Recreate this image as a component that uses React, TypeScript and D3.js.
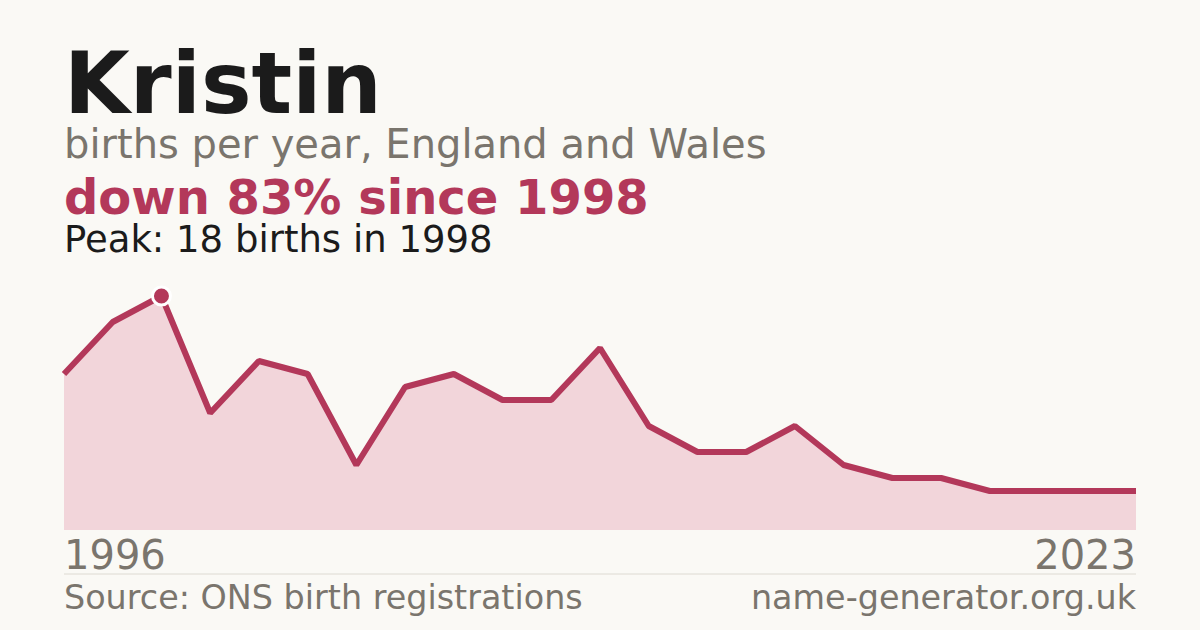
import { area, line, max, scaleLinear, select } from "d3";
import React, { useEffect, useRef } from "react";

// births per year (years with no published count are skipped)
const years = [
    1996, 1997, 1998, 1999, 2000, 2001, 2002, 2003, 2004, 2005, 2006, 2007,
    2008, 2009, 2010, 2011, 2012, 2014, 2016, 2018, 2020, 2022, 2023,
];
const births = [
    12, 16, 18, 9, 13, 12, 5, 11, 12, 10, 10, 14, 8, 6, 6, 8, 5, 4, 4, 3, 3, 3,
    3,
];
const axisLabels = ["1996", "2023"];

const FONT = "'DejaVu Sans', Verdana, sans-serif";
const RED = "#b3385a";
const GREY = "#7a756d";

const NameChart: React.FC = () => {
    const svgRef = useRef<SVGSVGElement>(null);

    useEffect(() => {
        if (svgRef.current) {
            svgRef.current.innerHTML = "";
        }
        document.body.style.margin = "0";

        const width = 1200,
            height = 630;
        const left = 64,
            right = 1136;

        const svg = select(svgRef.current)
            .attr("width", width)
            .attr("height", height)
            .style("display", "block")
            .style("font-family", FONT);

        svg.append("rect")
            .attr("width", width)
            .attr("height", height)
            .attr("fill", "#faf9f5");

        // header texts
        svg.append("text")
            .attr("x", left)
            .attr("y", 113)
            .attr("font-size", 85)
            .attr("font-weight", "bold")
            .attr("fill", "#1b1b1b")
            .text("Kristin");

        svg.append("text")
            .attr("x", left)
            .attr("y", 158)
            .attr("font-size", 40)
            .attr("fill", GREY)
            .text("births per year, England and Wales");

        svg.append("text")
            .attr("x", left)
            .attr("y", 214)
            .attr("font-size", 48)
            .attr("font-weight", "bold")
            .attr("fill", RED)
            .text("down 83% since 1998");

        svg.append("text")
            .attr("x", left)
            .attr("y", 252)
            .attr("font-size", 37)
            .attr("fill", "#1b1b1b")
            .text("Peak: 18 births in 1998");

        const xScale = scaleLinear()
            .domain([0, years.length - 1])
            .range([left, right]);

        const yScale = scaleLinear()
            .domain([0, max(births) as number])
            .range([530, 296]);

        const myArea = area<number>()
            .x((d, i) => xScale(i))
            .y0(yScale(0))
            .y1(d => yScale(d));

        const myLine = line<number>()
            .x((d, i) => xScale(i))
            .y(d => yScale(d));

        svg.append("path")
            .datum(births)
            .attr("fill", "#f2d5da")
            .attr("d", myArea);

        svg.append("path")
            .datum(births)
            .attr("fill", "none")
            .attr("stroke", RED)
            .attr("stroke-width", 6)
            .attr("stroke-linejoin", "bevel")
            .attr("d", myLine);

        // peak marker
        const peak = births.indexOf(max(births) as number);
        svg.append("circle")
            .attr("cx", xScale(peak))
            .attr("cy", yScale(births[peak]))
            .attr("r", 9)
            .attr("fill", RED)
            .attr("stroke", "#ffffff")
            .attr("stroke-width", 3);

        // year labels
        svg.append("text")
            .attr("x", left)
            .attr("y", 569)
            .attr("font-size", 40)
            .attr("fill", GREY)
            .text(axisLabels[0]);

        svg.append("text")
            .attr("x", right)
            .attr("y", 569)
            .attr("font-size", 40)
            .attr("text-anchor", "end")
            .attr("fill", GREY)
            .text(axisLabels[1]);

        svg.append("line")
            .attr("x1", left)
            .attr("x2", right)
            .attr("y1", 574)
            .attr("y2", 574)
            .attr("stroke", "#dddad2")
            .attr("stroke-width", 1);

        // footer
        svg.append("text")
            .attr("x", left)
            .attr("y", 609)
            .attr("font-size", 33.4)
            .attr("fill", GREY)
            .text("Source: ONS birth registrations");

        svg.append("text")
            .attr("x", right)
            .attr("y", 609)
            .attr("font-size", 33.4)
            .attr("text-anchor", "end")
            .attr("fill", GREY)
            .text("name-generator.org.uk");
    }, []);

    return <svg ref={svgRef}></svg>;
};

export default function App() {
    return <NameChart />;
}
